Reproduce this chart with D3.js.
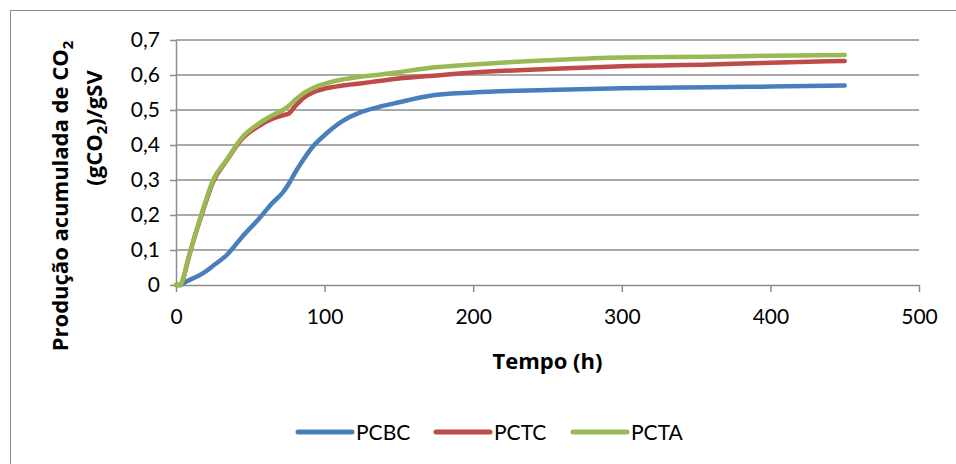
<!DOCTYPE html>
<html>
<head>
<meta charset="utf-8">
<script src="https://cdn.jsdelivr.net/npm/d3@7"></script>
<style>
  body { margin: 0; background: #fff; }
  svg { font-family: Lato, "Open Sans", sans-serif; }
  .grid line { stroke: #8c8c8c; stroke-width: 1.5; }
  .axis path, .axis line { stroke: #8c8c8c; stroke-width: 1.5; }
  .axis text { font-size: 21px; fill: #000; font-family: Lato, sans-serif; }
  .title { font-family: "Open Sans", sans-serif; font-weight: bold; font-size: 22px; }
</style>
</head>
<body>
<script>
// time (h)
var tempo = [0, 3, 5, 8, 12, 18, 25, 34, 45, 56, 65, 72, 76, 80, 86, 92, 101, 112, 124, 135, 150, 170, 200, 250, 300, 360, 400, 450];

var pcbc = [0, 0, 0.005, 0.012, 0.02, 0.033, 0.055, 0.085, 0.14, 0.19, 0.235, 0.265, 0.29, 0.32, 0.36, 0.395, 0.432, 0.468, 0.493, 0.507, 0.522, 0.54, 0.55, 0.557, 0.562, 0.565, 0.567, 0.57];
var pctc = [0, 0, 0.02, 0.07, 0.13, 0.21, 0.295, 0.355, 0.42, 0.455, 0.475, 0.485, 0.49, 0.51, 0.535, 0.55, 0.562, 0.57, 0.576, 0.582, 0.59, 0.597, 0.607, 0.617, 0.625, 0.63, 0.635, 0.64];
var pcta = [0, 0, 0.02, 0.07, 0.13, 0.214, 0.3, 0.357, 0.424, 0.462, 0.485, 0.5, 0.512, 0.528, 0.548, 0.562, 0.576, 0.587, 0.595, 0.6, 0.608, 0.62, 0.63, 0.642, 0.65, 0.652, 0.655, 0.657];

var series = [
  { name: "PCBC", values: pcbc, color: "#4a7ebb" },
  { name: "PCTC", values: pctc, color: "#be4b48" },
  { name: "PCTA", values: pcta, color: "#98b954" }
];

var yTicks = [0, 0.1, 0.2, 0.3, 0.4, 0.5, 0.6, 0.7];
var xTicks = [0, 100, 200, 300, 400, 500];

var W = 956, H = 464;
var svg = d3.select("body").append("svg").attr("width", W).attr("height", H);

// outer frame (right and bottom edges fall outside the picture)
svg.append("rect")
  .attr("x", 10.5).attr("y", 10.5)
  .attr("width", 960).attr("height", 470)
  .attr("fill", "none").attr("stroke", "#8c8c8c").attr("stroke-width", 1);

var x = d3.scaleLinear().domain([0, 500]).range([176, 919]);
var y = d3.scaleLinear().domain([0, 0.7]).range([285, 40]);

var fmt = function(d) { return String(d).replace(".", ","); };

// gridlines
svg.append("g").attr("class", "grid")
  .selectAll("line").data(yTicks.slice(1)).enter().append("line")
  .attr("x1", x(0)).attr("x2", x(500))
  .attr("y1", function(d) { return y(d); })
  .attr("y2", function(d) { return y(d); });

svg.append("g").attr("class", "axis")
  .attr("transform", "translate(" + x(0) + ",0)")
  .call(d3.axisLeft(y).tickValues(yTicks).tickFormat(fmt).tickSize(6).tickSizeOuter(0).tickPadding(10));

svg.append("g").attr("class", "axis")
  .attr("transform", "translate(0," + y(0) + ")")
  .call(d3.axisBottom(x).tickValues(xTicks).tickSize(7).tickSizeOuter(0).tickPadding(17));

// axis titles
svg.append("text").attr("class", "title")
  .attr("x", x(250)).attr("y", 369)
  .attr("text-anchor", "middle")
  .text("Tempo (h)");

var yl = svg.append("text").attr("class", "title")
  .attr("transform", "translate(68,196) rotate(-90)")
  .attr("text-anchor", "middle");
yl.append("tspan").text("Produção acumulada de CO");
yl.append("tspan").attr("font-size", 15).attr("dy", 5).text("2");

var yl2 = svg.append("text").attr("class", "title")
  .attr("transform", "translate(102,128) rotate(-90)")
  .attr("text-anchor", "middle");
yl2.append("tspan").text("(gCO");
yl2.append("tspan").attr("font-size", 15).attr("dy", 5).text("2");
yl2.append("tspan").attr("dy", -5).text(")/gSV");

// lines
var line = d3.line()
  .x(function(d, i) { return x(tempo[i]); })
  .y(function(d) { return y(d); })
  .curve(d3.curveMonotoneX);

svg.append("g").selectAll("path").data(series).enter().append("path")
  .attr("d", function(s) { return line(s.values); })
  .attr("fill", "none")
  .attr("stroke", function(s) { return s.color; })
  .attr("stroke-width", 4.5)
  .attr("stroke-linecap", "round")
  .attr("stroke-linejoin", "round");

// legend
var legX = [298, 436, 573];
var leg = svg.append("g").selectAll("g").data(series).enter().append("g")
  .attr("transform", function(s, i) { return "translate(" + legX[i] + ",432)"; });
leg.append("line")
  .attr("x1", 0).attr("x2", 54)
  .attr("stroke", function(s) { return s.color; })
  .attr("stroke-width", 5).attr("stroke-linecap", "round");
leg.append("text")
  .attr("x", 58).attr("dy", "0.36em")
  .attr("font-size", 21)
  .text(function(s) { return s.name; });
</script>
</body>
</html>
